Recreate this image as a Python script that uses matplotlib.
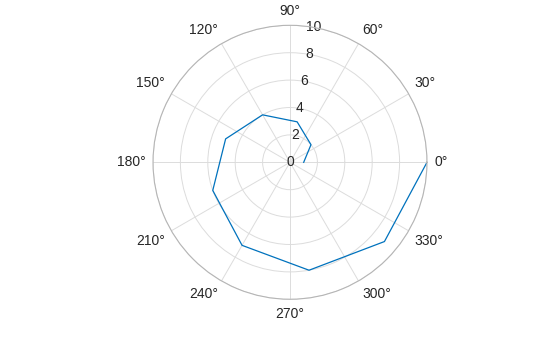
import numpy as np
import matplotlib
matplotlib.use("Agg")
import matplotlib.pyplot as plt

theta_deg = [0, 40, 80, 120, 160, 200, 240, 280, 320, 360]
rho = [1, 2, 3, 4, 5, 6, 7, 8, 9, 10]
theta_ticks = [0, 30, 60, 90, 120, 150, 180, 210, 240, 270, 300, 330]
theta_labels = [f"{t}°" for t in theta_ticks]
r_ticks = [0, 2, 4, 6, 8, 10]
r_labels = [str(r) for r in r_ticks]

plt.rcParams['font.family'] = ['Liberation Sans', 'DejaVu Sans']

fig = plt.figure(figsize=(5.6, 3.37), dpi=100)
ax = fig.add_axes([0.2732, 0.1119, 0.4893, 0.813], projection='polar')

ax.plot(np.deg2rad(theta_deg), rho, color='#0072BD', lw=0.9)

ax.set_ylim(0, 10)
ax.set_thetagrids(theta_ticks, theta_labels)
ax.set_rgrids(r_ticks, r_labels)
ax.set_rlabel_position(80)
ax.grid(True, color='#dcdcdc', lw=0.7)
ax.spines['polar'].set_color('#b5b5b5')
ax.spines['polar'].set_linewidth(0.8)
ax.tick_params(axis='x', labelsize=10, colors='#262626', pad=-5.3)
ax.tick_params(axis='y', labelsize=10, colors='#262626')
for lab in ax.get_yticklabels():
    lab.set_ha('center')
    lab.set_va('center')
for lab, t in zip(ax.get_xticklabels(), theta_ticks):
    c, s = np.cos(np.deg2rad(t)), np.sin(np.deg2rad(t))
    lab.set_ha('left' if c > 0.01 else ('right' if c < -0.01 else 'center'))
    lab.set_va('bottom' if s > 0.01 else ('top' if s < -0.01 else 'center'))

fig.savefig('out.png', dpi=100)
